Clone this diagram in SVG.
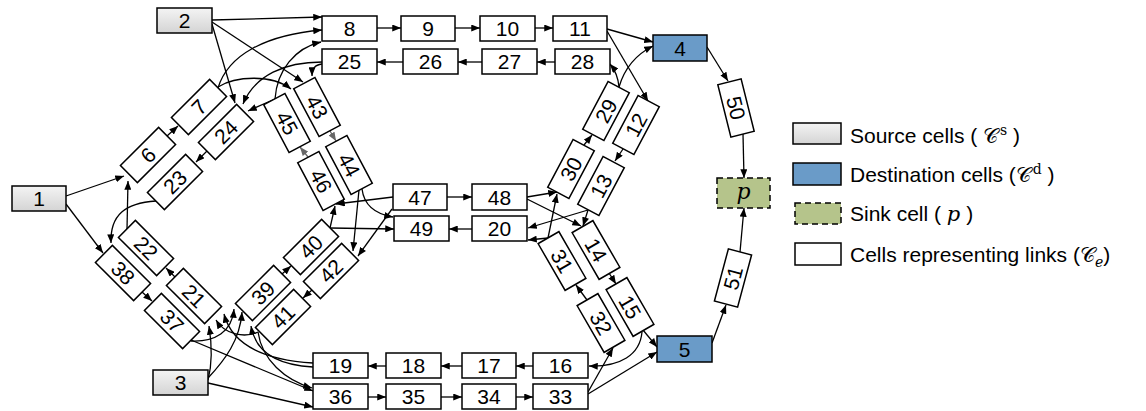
<svg xmlns="http://www.w3.org/2000/svg" width="1146" height="411" viewBox="0 0 1146 411">
<defs>
<linearGradient id="gs" x1="0" y1="0" x2="0" y2="1"><stop offset="0" stop-color="#f4f4f4"/><stop offset="1" stop-color="#d4d4d4"/></linearGradient>
<marker id="a" viewBox="0 0 10 8" refX="10" refY="4" markerWidth="9" markerHeight="7" markerUnits="userSpaceOnUse" orient="auto"><path d="M0,0 L10,4 L0,8 z" fill="#000"/></marker>
<marker id="g" viewBox="0 0 10 8" refX="10" refY="4" markerWidth="9" markerHeight="7" markerUnits="userSpaceOnUse" orient="auto"><path d="M0,0 L10,4 L0,8 z" fill="#666"/></marker>
</defs>
<style>
.c{fill:#fff;stroke:#000;stroke-width:1.5}
.s{fill:url(#gs);stroke:#000;stroke-width:1.5}
.d{fill:#6a9bc8;stroke:#000;stroke-width:1.5}
.k{fill:#b5c48b;stroke:#000;stroke-width:1.5;stroke-dasharray:6 4}
.t{font-family:"Liberation Sans",Arial,sans-serif;font-size:21px;text-anchor:middle;fill:#000}
.l{font-family:"Liberation Sans",Arial,sans-serif;font-size:21px;fill:#000}
.m{font-family:"DejaVu Serif","Liberation Serif",serif;font-style:normal}
.i{font-family:"DejaVu Serif","Liberation Serif",serif;font-style:italic}
#conn path{fill:none;stroke:#000;stroke-width:1.3;marker-end:url(#a)}
#conn path.gr{stroke:#666;marker-end:url(#g)}
</style>
<rect width="1146" height="411" fill="#fff"/>
<g id="conn">
<path d="M212,20 L322,17"/>
<path d="M212,22 L303,82"/>
<path d="M212,24 L235,103"/>
<path d="M218,88 C228,55 265,35 322,30"/>
<path d="M218,87 C235,76 272,74 291,89"/>
<path d="M275,99 C277,70 295,48 321,42"/>
<path d="M322,62 C285,62 255,75 243,104"/>
<path d="M275,99 L248,111"/>
<path d="M322,64 C315,65 312,68 312,76"/>
<path d="M377,28 L401,28"/>
<path d="M455,28 L480,28"/>
<path d="M535,28 L553,28"/>
<path d="M555,62 L537,62"/>
<path d="M482,62 L458,62"/>
<path d="M403,62 L377,62"/>
<path d="M607,29 L653,42"/>
<path d="M607,31 L648,101"/>
<path d="M619,87 C624,70 635,55 653,46"/>
<path d="M619,87 C618,76 615,70 610,64"/>
<path d="M707,47 L728,81"/>
<path d="M743,134 L744,178"/>
<path d="M712,343 L726,305"/>
<path d="M740,252 L744,208"/>
<path d="M584,145 L592,135"/>
<path d="M623,149 L615,161"/>
<path d="M447,197 L472,197"/>
<path d="M472,229 L449,229"/>
<path d="M527,197 L557,192"/>
<path d="M527,199 L581,226"/>
<path d="M588,210 L528,228"/>
<path d="M588,210 L583,226"/>
<path d="M548,238 L528,240"/>
<path d="M548,238 L557,194"/>
<path d="M609,273 L616,284"/>
<path d="M587,300 L576,285"/>
<path d="M643,330 L657,347"/>
<path d="M642,332 C640,355 620,367 589,366"/>
<path d="M588,392 L613,348"/>
<path d="M588,394 L657,352"/>
<path d="M533,366 L516,366"/>
<path d="M462,366 L441,366"/>
<path d="M386,366 L368,366"/>
<path d="M368,397 L386,397"/>
<path d="M441,397 L462,397"/>
<path d="M516,397 L533,397"/>
<path d="M393,197 L336,204"/>
<path d="M362,189 C364,205 375,214 393,217"/>
<path d="M330,228 L394,229"/>
<path d="M330,228 L335,206"/>
<path d="M359,190 L353,251"/>
<path d="M392,209 L358,256"/>
<path class="gr" d="M330,131 L336,141"/>
<path class="gr" d="M308,157 L300,147"/>
<path d="M282,274 L291,266"/>
<path d="M312,290 L303,298"/>
<path d="M66,196 L124,176"/>
<path d="M66,204 L103,253"/>
<path d="M127,229 L128,181"/>
<path d="M156,201 C125,203 110,215 111,243"/>
<path d="M167,136 L178,126"/>
<path d="M207,151 L196,162"/>
<path d="M142,292 L152,301"/>
<path d="M175,277 L166,268"/>
<path d="M191,340 L313,391"/>
<path d="M191,341 C215,342 232,332 234,309"/>
<path d="M208,380 C212,365 212,345 209,326"/>
<path d="M208,378 C225,360 240,340 242,312"/>
<path d="M208,383 L313,407"/>
<path d="M313,363 C265,360 232,345 224,314"/>
<path d="M313,367 C275,365 255,350 251,326"/>
<path d="M258,332 C245,338 225,335 216,320"/>
<path d="M258,332 C262,360 285,380 312,388"/>
</g>
<g id="n1"><rect class="s" x="12" y="186" width="54" height="25"/><text class="t" x="39" y="206">1</text></g>
<g id="n2"><rect class="s" x="157" y="8" width="55" height="25"/><text class="t" x="184.5" y="28">2</text></g>
<g id="n3"><rect class="s" x="153" y="370" width="55" height="25"/><text class="t" x="180.5" y="390">3</text></g>
<g id="n4"><rect class="d" x="653" y="35" width="54" height="26"/><text class="t" x="680" y="55.5">4</text></g>
<g id="n5"><rect class="d" x="657" y="336" width="55" height="26"/><text class="t" x="684.5" y="356.5">5</text></g>
<g id="np"><rect class="k" x="717" y="178" width="53" height="30"/><text x="743.5" y="199" text-anchor="middle" font-family="DejaVu Serif,Liberation Serif,serif" font-style="italic" font-size="22">p</text></g>
<g id="n8"><rect class="c" x="322" y="16" width="55" height="25"/><text class="t" x="349.5" y="36">8</text></g>
<g id="n9"><rect class="c" x="401" y="16" width="54" height="25"/><text class="t" x="428" y="36">9</text></g>
<g id="n10"><rect class="c" x="480" y="16" width="55" height="25"/><text class="t" x="507.5" y="36">10</text></g>
<g id="n11"><rect class="c" x="553" y="16" width="54" height="25"/><text class="t" x="580" y="36">11</text></g>
<g id="n25"><rect class="c" x="322" y="49" width="55" height="25"/><text class="t" x="349.5" y="69">25</text></g>
<g id="n26"><rect class="c" x="403" y="49" width="55" height="25"/><text class="t" x="430.5" y="69">26</text></g>
<g id="n27"><rect class="c" x="482" y="49" width="55" height="25"/><text class="t" x="509.5" y="69">27</text></g>
<g id="n28"><rect class="c" x="555" y="49" width="55" height="25"/><text class="t" x="582.5" y="69">28</text></g>
<g id="n47"><rect class="c" x="393" y="184" width="54" height="26"/><text class="t" x="420" y="204.5">47</text></g>
<g id="n48"><rect class="c" x="472" y="184" width="55" height="26"/><text class="t" x="499.5" y="204.5">48</text></g>
<g id="n49"><rect class="c" x="394" y="216" width="55" height="25"/><text class="t" x="421.5" y="236">49</text></g>
<g id="n20"><rect class="c" x="472" y="216" width="55" height="25"/><text class="t" x="499.5" y="236">20</text></g>
<g id="n19"><rect class="c" x="313" y="353" width="55" height="25"/><text class="t" x="340.5" y="373">19</text></g>
<g id="n18"><rect class="c" x="386" y="353" width="55" height="25"/><text class="t" x="413.5" y="373">18</text></g>
<g id="n17"><rect class="c" x="462" y="353" width="54" height="25"/><text class="t" x="489" y="373">17</text></g>
<g id="n16"><rect class="c" x="533" y="353" width="55" height="25"/><text class="t" x="560.5" y="373">16</text></g>
<g id="n36"><rect class="c" x="313" y="384" width="55" height="25"/><text class="t" x="340.5" y="404">36</text></g>
<g id="n35"><rect class="c" x="386" y="384" width="55" height="25"/><text class="t" x="413.5" y="404">35</text></g>
<g id="n34"><rect class="c" x="462" y="384" width="54" height="25"/><text class="t" x="489" y="404">34</text></g>
<g id="n33"><rect class="c" x="533" y="384" width="55" height="25"/><text class="t" x="560.5" y="404">33</text></g>
<g id="n6" transform="translate(148,155) rotate(-45)"><rect class="c" x="-27" y="-12" width="54" height="24"/><text class="t" y="7.5">6</text></g>
<g id="n7" transform="translate(199,107) rotate(-45)"><rect class="c" x="-27" y="-12" width="54" height="24"/><text class="t" y="7.5">7</text></g>
<g id="n23" transform="translate(175,182) rotate(-45)"><rect class="c" x="-27" y="-12" width="54" height="24"/><text class="t" y="7.5">23</text></g>
<g id="n24" transform="translate(226,132) rotate(-45)"><rect class="c" x="-27" y="-12" width="54" height="24"/><text class="t" y="7.5">24</text></g>
<g id="n22" transform="translate(146,248) rotate(45)"><rect class="c" x="-27" y="-12" width="54" height="24"/><text class="t" y="7.5">22</text></g>
<g id="n38" transform="translate(123,273) rotate(45)"><rect class="c" x="-27" y="-12" width="54" height="24"/><text class="t" y="7.5">38</text></g>
<g id="n21" transform="translate(194,296) rotate(45)"><rect class="c" x="-27" y="-12" width="54" height="24"/><text class="t" y="7.5">21</text></g>
<g id="n37" transform="translate(172,321) rotate(45)"><rect class="c" x="-27" y="-12" width="54" height="24"/><text class="t" y="7.5">37</text></g>
<g id="n39" transform="translate(263,293) rotate(-45)"><rect class="c" x="-27" y="-12" width="54" height="24"/><text class="t" y="7.5">39</text></g>
<g id="n40" transform="translate(311,247) rotate(-45)"><rect class="c" x="-27" y="-12" width="54" height="24"/><text class="t" y="7.5">40</text></g>
<g id="n41" transform="translate(283,317) rotate(-45)"><rect class="c" x="-27" y="-12" width="54" height="24"/><text class="t" y="7.5">41</text></g>
<g id="n42" transform="translate(331,271) rotate(-45)"><rect class="c" x="-27" y="-12" width="54" height="24"/><text class="t" y="7.5">42</text></g>
<g id="n43" transform="translate(317,107) rotate(62)"><rect class="c" x="-27" y="-12" width="54" height="24"/><text class="t" y="7.5">43</text></g>
<g id="n44" transform="translate(349,165) rotate(62)"><rect class="c" x="-27" y="-12" width="54" height="24"/><text class="t" y="7.5">44</text></g>
<g id="n45" transform="translate(287,123) rotate(62)"><rect class="c" x="-27" y="-12" width="54" height="24"/><text class="t" y="7.5">45</text></g>
<g id="n46" transform="translate(321,181) rotate(62)"><rect class="c" x="-27" y="-12" width="54" height="24"/><text class="t" y="7.5">46</text></g>
<g id="n29" transform="translate(606,111) rotate(-62)"><rect class="c" x="-27" y="-12" width="54" height="24"/><text class="t" y="7.5">29</text></g>
<g id="n12" transform="translate(636,125) rotate(-62)"><rect class="c" x="-27" y="-12" width="54" height="24"/><text class="t" y="7.5">12</text></g>
<g id="n30" transform="translate(571,169) rotate(-62)"><rect class="c" x="-27" y="-12" width="54" height="24"/><text class="t" y="7.5">30</text></g>
<g id="n13" transform="translate(601,186) rotate(-62)"><rect class="c" x="-27" y="-12" width="54" height="24"/><text class="t" y="7.5">13</text></g>
<g id="n31" transform="translate(562,261) rotate(60)"><rect class="c" x="-27" y="-12" width="54" height="24"/><text class="t" y="7.5">31</text></g>
<g id="n14" transform="translate(596,250) rotate(60)"><rect class="c" x="-27" y="-12" width="54" height="24"/><text class="t" y="7.5">14</text></g>
<g id="n32" transform="translate(601,323) rotate(60)"><rect class="c" x="-27" y="-12" width="54" height="24"/><text class="t" y="7.5">32</text></g>
<g id="n15" transform="translate(630,307) rotate(60)"><rect class="c" x="-27" y="-12" width="54" height="24"/><text class="t" y="7.5">15</text></g>
<g id="n50" transform="translate(736,108) rotate(76)"><rect class="c" x="-27" y="-12" width="54" height="24"/><text class="t" y="7.5">50</text></g>
<g id="n51" transform="translate(733,278) rotate(-75)"><rect class="c" x="-27" y="-12" width="54" height="24"/><text class="t" y="7.5">51</text></g>
<g id="legend">
<rect class="s" x="793" y="123" width="48" height="21"/>
<text class="l" x="850" y="143">Source cells ( <tspan class="m">𝒞</tspan><tspan class="m" font-size="14" dx="2" dy="-8">s</tspan><tspan dy="8"> )</tspan></text>
<rect class="d" x="793" y="163" width="48" height="22"/>
<text class="l" x="850" y="182">Destination cells (<tspan class="m">𝒞</tspan><tspan class="m" font-size="14" dx="2" dy="-8">d</tspan><tspan dy="8"> )</tspan></text>
<rect class="k" x="795" y="203" width="46" height="21"/>
<text class="l" x="850" y="221">Sink cell ( <tspan class="i">p</tspan> )</text>
<rect class="c" x="795" y="243" width="46" height="22"/>
<text class="l" x="850" y="262">Cells representing links (<tspan class="m">𝒞</tspan><tspan class="i" font-size="14" dy="5">e</tspan><tspan dy="-5">)</tspan></text>
</g>
</svg>
